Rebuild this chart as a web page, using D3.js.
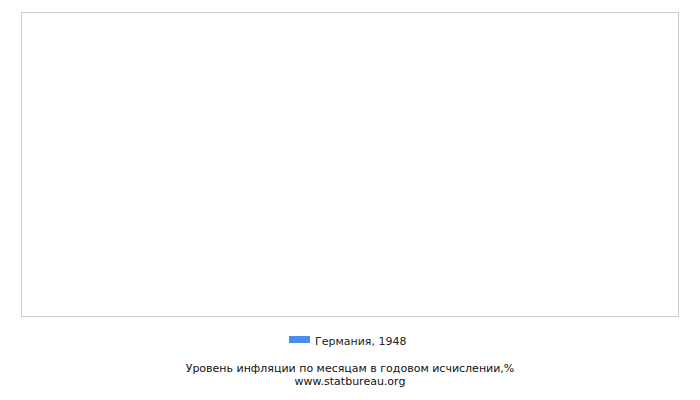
<!DOCTYPE html>
<html lang="ru">
<head>
<meta charset="UTF-8" />
<title>Инфляция Германия 1948</title>
<script src="https://d3js.org/d3.v7.min.js"></script>
<style>
  body { margin: 0; background: #fff; font-family: 'DejaVu Sans', sans-serif; }
</style>
</head>
<body>
<div id="chart"></div>
<script>
// data (the reference shows no values for this year)
const months = ["Январь", "Февраль", "Март", "Апрель", "Май", "Июнь",
                "Июль", "Август", "Сентябрь", "Октябрь", "Ноябрь", "Декабрь"];
const values = [];
const seriesName = "Германия, 1948";
const titleLines = ["Уровень инфляции по месяцам в годовом исчислении,%", "www.statbureau.org"];

const W = 700, H = 400;
const plot = { left: 21.5, top: 12.5, right: 678.5, bottom: 316.5 };

const svg = d3.select("#chart").append("svg")
  .attr("width", W).attr("height", H);

const x = d3.scaleBand().domain(months).range([plot.left, plot.right]).padding(0.2);
const y = d3.scaleLinear().domain([0, d3.max(values) || 1]).range([plot.bottom, plot.top]);

// plot frame
svg.append("rect")
  .attr("x", plot.left).attr("y", plot.top)
  .attr("width", plot.right - plot.left).attr("height", plot.bottom - plot.top)
  .attr("fill", "none").attr("stroke", "#cccccc").attr("stroke-width", 1);

// bars (none for this dataset)
svg.selectAll(".bar").data(values).enter().append("rect")
  .attr("class", "bar")
  .attr("x", (d, i) => x(months[i]))
  .attr("width", x.bandwidth())
  .attr("y", d => y(d))
  .attr("height", d => y(0) - y(d))
  .attr("fill", "#4a8cf0");

// legend
const legend = svg.append("g").attr("transform", "translate(289,336)");
legend.append("rect").attr("width", 21).attr("height", 7).attr("fill", "#4a8cf0");
legend.append("text")
  .attr("x", 26).attr("y", 8.5)
  .attr("font-size", 11).attr("fill", "#222")
  .text(seriesName);

// title
svg.selectAll(".title").data(titleLines).enter().append("text")
  .attr("class", "title")
  .attr("x", 350).attr("y", (d, i) => 372 + i * 12.5)
  .attr("text-anchor", "middle")
  .attr("font-size", 11).attr("fill", "#111")
  .text(d => d);
</script>
</body>
</html>
